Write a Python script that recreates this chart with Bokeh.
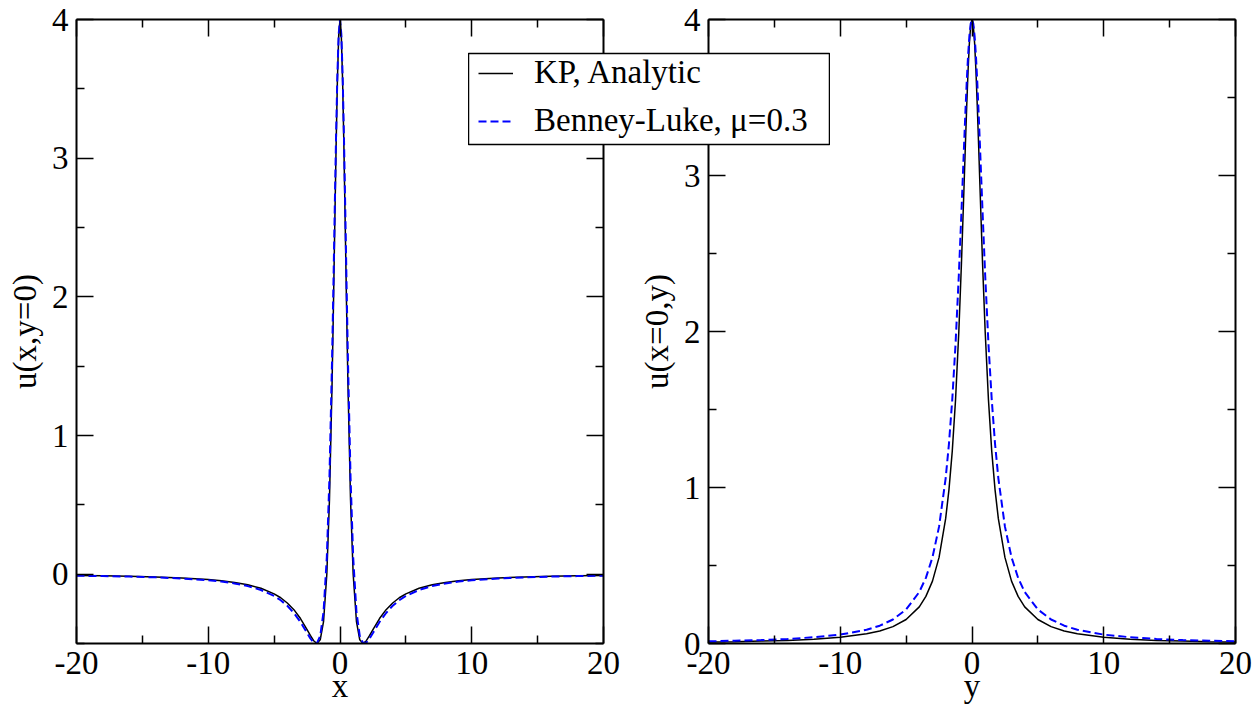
from bokeh.plotting import figure
from bokeh.models import Range1d, FixedTicker, LinearAxis, Legend, LegendItem, Row
from bokeh.embed import file_html
from bokeh.resources import INLINE

# ---------------- data ----------------
X_VALS = [-20, -18, -16, -14, -12, -10, -9, -8, -7, -6, -5, -4.5, -4, -3.5, -3, -2.5, -2.25, -2,
          -1.75, -1.5, -1.25, -1, -0.8, -0.6, -0.5, -0.4, -0.3, -0.2, -0.1, 0,
          0.1, 0.2, 0.3, 0.4, 0.5, 0.6, 0.8, 1, 1.25, 1.5, 1.75, 2, 2.25, 2.5, 3, 3.5, 4, 4.5,
          5, 6, 7, 8, 9, 10, 12, 14, 16, 18, 20]
KP_X = [-0.010, -0.012, -0.015, -0.020, -0.027, -0.039, -0.048, -0.060, -0.077, -0.102, -0.142,
        -0.170, -0.208, -0.256, -0.320, -0.400, -0.442, -0.480, -0.500, -0.473, -0.343, 0.0,
        0.535, 1.384, 1.920, 2.497, 3.064, 3.550, 3.882, 4.0,
        3.882, 3.550, 3.064, 2.497, 1.920, 1.384, 0.535, 0.0, -0.343, -0.473, -0.500, -0.480,
        -0.442, -0.400, -0.320, -0.256, -0.208, -0.170, -0.142, -0.102, -0.077, -0.060, -0.048,
        -0.039, -0.027, -0.020, -0.015, -0.012, -0.010]
BL_X = [-0.011, -0.014, -0.017, -0.023, -0.031, -0.044, -0.053, -0.067, -0.086, -0.114, -0.157,
        -0.188, -0.228, -0.280, -0.345, -0.424, -0.463, -0.493, -0.497, -0.445, -0.273, 0.123,
        0.699, 1.559, 2.081, 2.628, 3.154, 3.597, 3.895, 4.0,
        3.895, 3.597, 3.154, 2.628, 2.081, 1.559, 0.699, 0.123, -0.273, -0.445, -0.497, -0.493,
        -0.463, -0.424, -0.345, -0.280, -0.228, -0.188, -0.157, -0.114, -0.086, -0.067, -0.053,
        -0.044, -0.031, -0.023, -0.017, -0.014, -0.011]

Y_VALS = [-20, -18, -16, -14, -12, -10, -8, -7, -6, -5, -4, -3.5, -3, -2.5, -2, -1.75, -1.5,
          -1.25, -1, -0.8, -0.6, -0.5, -0.4, -0.3, -0.2, -0.1, 0,
          0.1, 0.2, 0.3, 0.4, 0.5, 0.6, 0.8, 1, 1.25, 1.5, 1.75, 2, 2.5, 3, 3.5, 4, 5, 6, 7, 8,
          10, 12, 14, 16, 18, 20]
KP_Y = [0.010, 0.012, 0.016, 0.020, 0.028, 0.040, 0.062, 0.080, 0.108, 0.154, 0.235, 0.302,
        0.400, 0.552, 0.800, 0.985, 1.231, 1.561, 2.000, 2.439, 2.941, 3.200, 3.448, 3.670,
        3.846, 3.960, 4.0,
        3.960, 3.846, 3.670, 3.448, 3.200, 2.941, 2.439, 2.000, 1.561, 1.231, 0.985, 0.800,
        0.552, 0.400, 0.302, 0.235, 0.154, 0.108, 0.080, 0.062, 0.040, 0.028, 0.020, 0.016,
        0.012, 0.010]
BL_Y = [0.014, 0.018, 0.022, 0.029, 0.040, 0.057, 0.088, 0.114, 0.154, 0.218, 0.330, 0.421,
        0.552, 0.749, 1.059, 1.279, 1.561, 1.918, 2.361, 2.769, 3.200, 3.408, 3.600, 3.765,
        3.892, 3.972, 4.0,
        3.972, 3.892, 3.765, 3.600, 3.408, 3.200, 2.769, 2.361, 1.918, 1.561, 1.279, 1.059,
        0.749, 0.552, 0.421, 0.330, 0.218, 0.154, 0.114, 0.088, 0.057, 0.040, 0.029, 0.022,
        0.018, 0.014]

X_TICKS = [-20, -10, 0, 10, 20]
X_TICK_LABELS = ["-20", "-10", "0", "10", "20"]
X_MINOR = [-15, -5, 5, 15]
U_TICKS = [0, 1, 2, 3, 4]
U_TICK_LABELS = ["0", "1", "2", "3", "4"]
U_MINOR_LEFT = [-0.5, 0.5, 1.5, 2.5, 3.5]
U_MINOR_RIGHT = [0.5, 1.5, 2.5, 3.5]

SERIES_NAMES = ["KP, Analytic", "Benney-Luke, \u03bc=0.3"]

FONT = "Liberation Serif"
FS = "33px"
H = 707
BT, BB = 19, 64


def style_axis(ax, ticks, labels, minor, show_labels):
    ax.ticker = FixedTicker(ticks=ticks, minor_ticks=minor)
    ax.major_tick_in = 17
    ax.major_tick_out = 0
    ax.minor_tick_in = 8
    ax.minor_tick_out = 0
    ax.axis_line_width = 2
    ax.axis_line_color = "black"
    ax.major_tick_line_width = 1.5
    ax.minor_tick_line_width = 1.5
    ax.major_tick_line_color = "black"
    ax.minor_tick_line_color = "black"
    ax.major_label_text_font = FONT
    ax.axis_label_text_font = FONT
    ax.axis_label_text_font_size = FS
    ax.axis_label_text_font_style = "normal"
    ax.axis_label_text_color = "black"
    ax.major_label_text_color = "black"
    if show_labels:
        ax.major_label_text_font_size = FS
        ax.major_label_overrides = {t: l for t, l in zip(ticks, labels)}
    else:
        ax.major_label_text_font_size = "0px"
        ax.major_label_standoff = 0
        ax.major_label_overrides = {t: "" for t in ticks}


def make_panel(width, xs, k, b, xlabel, ylabel, y_range, u_minor, bl, br):
    p = figure(width=width, height=H, output_backend="svg", toolbar_location=None,
               x_range=Range1d(-20, 20), y_range=y_range,
               min_border_left=bl, min_border_top=BT, min_border_right=br, min_border_bottom=BB,
               x_axis_label=xlabel, y_axis_label=ylabel)
    p.grid.visible = False
    p.outline_line_color = None
    p.line(xs, k, line_color="black", line_width=1.5)
    p.line(xs, b, line_color="#0000ff", line_width=2, line_dash="8 4")
    style_axis(p.xaxis[0], X_TICKS, X_TICK_LABELS, X_MINOR, True)
    style_axis(p.yaxis[0], U_TICKS, U_TICK_LABELS, u_minor, True)
    p.xaxis[0].major_label_standoff = 8
    p.xaxis[0].axis_label_standoff = -9
    p.yaxis[0].major_label_standoff = 8
    p.yaxis[0].axis_label_standoff = 6
    top = LinearAxis()
    style_axis(top, X_TICKS, X_TICK_LABELS, X_MINOR, False)
    right = LinearAxis()
    style_axis(right, U_TICKS, U_TICK_LABELS, u_minor, False)
    p.add_layout(top, "above")
    p.add_layout(right, "right")
    return p


p1 = make_panel(623, X_VALS, KP_X, BL_X, "x", "u(x,y=0)", Range1d(-0.5, 4),
                U_MINOR_LEFT, 76, 20)
p2 = make_panel(629, Y_VALS, KP_Y, BL_Y, "y", "u(x=0,y)", Range1d(0, 4),
                U_MINOR_RIGHT, 85, 17)

# legend box, laid over both panels (its frame is the visible box);
# its sample renderers hold the real series but the ranges keep them out of view
LEG_H = 91
p3 = figure(width=362, height=LEG_H + BT + BB, output_backend="svg", toolbar_location=None,
            x_axis_location=None, y_axis_location=None,
            x_range=Range1d(100, 101), y_range=Range1d(100, 101),
            min_border_left=0, min_border_right=0, min_border_top=BT, min_border_bottom=BB)
p3.grid.visible = False
p3.outline_line_color = "black"
p3.outline_line_width = 1.5
p3.background_fill_color = "white"
p3.border_fill_alpha = 0
g1 = p3.line(X_VALS, KP_X, line_color="black", line_width=1.5)
g2 = p3.line(X_VALS, BL_X, line_color="#0000ff", line_width=2, line_dash="8 4")
legend = Legend(items=[LegendItem(label=SERIES_NAMES[0], renderers=[g1]),
                       LegendItem(label=SERIES_NAMES[1], renderers=[g2])],
                location=(10, 5))
legend.label_text_font = FONT
legend.label_text_font_size = FS
legend.label_text_color = "black"
legend.border_line_color = None
legend.background_fill_alpha = 0
legend.glyph_width = 35
legend.glyph_height = 36
legend.label_height = 36
legend.label_standoff = 21
legend.spacing = 11
legend.padding = 0
legend.margin = 0
p3.add_layout(legend, "center")
p3.margin = (53 - BT, 0, 0, -784)

layout = Row(children=[p1, p2, p3], spacing=0)

open("out.html", "w").write(file_html(layout, INLINE))
